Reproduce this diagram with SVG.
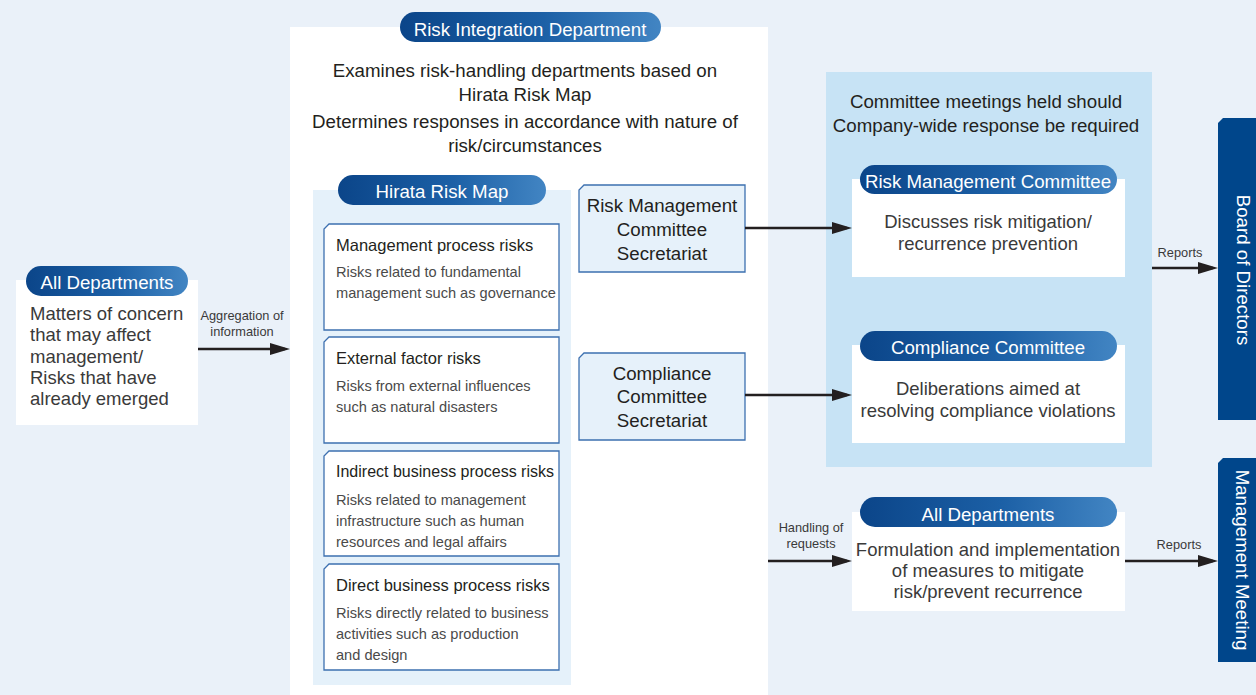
<svg xmlns="http://www.w3.org/2000/svg" width="1256" height="695" viewBox="0 0 1256 695">
  <defs>
    <linearGradient id="pill" x1="0" y1="0" x2="1" y2="0">
      <stop offset="0" stop-color="#0b4589"/>
      <stop offset="0.55" stop-color="#1c60a6"/>
      <stop offset="1" stop-color="#4285c3"/>
    </linearGradient>
    <marker id="arrow" markerUnits="userSpaceOnUse" markerWidth="20" markerHeight="12" refX="15" refY="6" orient="auto">
      <path d="M0,0 L20,6 L0,12 Z" fill="#231f20"/>
    </marker>
    <style>
      text { font-family: "Liberation Sans", Arial, sans-serif; }
      .main { font-size: 18.7px; fill: #231f20; text-anchor: middle; }
      .desc { font-size: 18.5px; fill: #3a3a3a; text-anchor: middle; }
      .pill-text { font-size: 18.7px; fill: #ffffff; text-anchor: middle; }
      .risk-title { font-size: 16.5px; fill: #231f20; }
      .risk-desc { font-size: 14.6px; fill: #4a4a4a; }
      .small { font-size: 12.8px; fill: #3a3a3a; text-anchor: middle; }
      .vert { font-size: 18.7px; fill: #ffffff; text-anchor: middle; }
      .riskbox { fill: #ffffff; stroke: #3d70b0; stroke-width: 1.3; }
      .secbox { fill: #e6f1fa; stroke: #3d70b0; stroke-width: 1.3; }
      .conn { stroke: #231f20; stroke-width: 2.5; fill: none; marker-end: url(#arrow); }
    </style>
  </defs>

  <!-- page background -->
  <rect x="0" y="0" width="1256" height="695" fill="#eaf1f9"/>

  <!-- Risk Integration Department -->
  <g id="risk-integration">
    <rect x="290" y="27" width="478" height="668" fill="#ffffff"/>
    <rect x="400" y="12" width="261" height="30" rx="15" fill="url(#pill)"/>
    <text class="pill-text" x="530" y="36">Risk Integration Department</text>
    <text class="main" x="525" y="77">Examines risk-handling departments based on</text>
    <text class="main" x="525" y="101">Hirata Risk Map</text>
    <text class="main" x="525" y="128">Determines responses in accordance with nature of</text>
    <text class="main" x="525" y="152">risk/circumstances</text>
  </g>

  <!-- Hirata Risk Map -->
  <g id="hirata-risk-map">
    <rect x="313" y="190" width="258" height="495" fill="#e5f1fa"/>
    <rect x="338" y="175" width="208" height="30" rx="15" fill="url(#pill)"/>
    <text class="pill-text" x="442" y="198">Hirata Risk Map</text>
  </g>

  <g id="risk-management-process">
    <path class="riskbox" d="M329,224 H559 V330 H324 V229 Z"/>
    <text class="risk-title" x="336" y="251">Management process risks</text>
    <text class="risk-desc" x="336" y="277">Risks related to fundamental</text>
    <text class="risk-desc" x="336" y="298">management such as governance</text>
  </g>

  <g id="risk-external-factor">
    <path class="riskbox" d="M329,337 H559 V443 H324 V342 Z"/>
    <text class="risk-title" x="336" y="364">External factor risks</text>
    <text class="risk-desc" x="336" y="391">Risks from external influences</text>
    <text class="risk-desc" x="336" y="412">such as natural disasters</text>
  </g>

  <g id="risk-indirect-business">
    <path class="riskbox" d="M329,451 H559 V556 H324 V456 Z"/>
    <text class="risk-title" x="336" y="477" textLength="218" lengthAdjust="spacingAndGlyphs">Indirect business process risks</text>
    <text class="risk-desc" x="336" y="505">Risks related to management</text>
    <text class="risk-desc" x="336" y="526">infrastructure such as human</text>
    <text class="risk-desc" x="336" y="547">resources and legal affairs</text>
  </g>

  <g id="risk-direct-business">
    <path class="riskbox" d="M329,564 H559 V670 H324 V569 Z"/>
    <text class="risk-title" x="336" y="591">Direct business process risks</text>
    <text class="risk-desc" x="336" y="618">Risks directly related to business</text>
    <text class="risk-desc" x="336" y="639">activities such as production</text>
    <text class="risk-desc" x="336" y="660">and design</text>
  </g>

  <!-- Secretariats -->
  <g id="rm-secretariat">
    <path class="secbox" d="M584,185 H745 V272 H579 V190 Z"/>
    <text class="main" x="662" y="212">Risk Management</text>
    <text class="main" x="662" y="236">Committee</text>
    <text class="main" x="662" y="260">Secretariat</text>
  </g>

  <g id="compliance-secretariat">
    <path class="secbox" d="M584,353 H745 V440 H579 V358 Z"/>
    <text class="main" x="662" y="380">Compliance</text>
    <text class="main" x="662" y="403">Committee</text>
    <text class="main" x="662" y="427">Secretariat</text>
  </g>

  <!-- All Departments (source) -->
  <g id="all-departments-source">
    <rect x="16" y="280" width="182" height="145" fill="#ffffff"/>
    <rect x="26" y="266" width="162" height="30" rx="15" fill="url(#pill)"/>
    <text class="pill-text" x="107" y="289">All Departments</text>
    <text class="desc" x="30" y="320" style="text-anchor:start">Matters of concern</text>
    <text class="desc" x="30" y="341.3" style="text-anchor:start">that may affect</text>
    <text class="desc" x="30" y="362.6" style="text-anchor:start">management/</text>
    <text class="desc" x="30" y="384" style="text-anchor:start">Risks that have</text>
    <text class="desc" x="30" y="405" style="text-anchor:start">already emerged</text>
  </g>

  <!-- Committees -->
  <g id="committee-meetings">
    <rect x="826" y="72" width="326" height="395" fill="#c7e3f5"/>
    <text class="main" x="986" y="108">Committee meetings held should</text>
    <text class="main" x="986" y="132">Company-wide response be required</text>
  </g>

  <g id="risk-management-committee">
    <rect x="852" y="179" width="273" height="98" fill="#ffffff"/>
    <rect x="860" y="165" width="257" height="29" rx="14.5" fill="url(#pill)"/>
    <text class="pill-text" x="988" y="188">Risk Management Committee</text>
    <text class="desc" x="988" y="228">Discusses risk mitigation/</text>
    <text class="desc" x="988" y="250">recurrence prevention</text>
  </g>

  <g id="compliance-committee">
    <rect x="852" y="345" width="273" height="98" fill="#ffffff"/>
    <rect x="860" y="331" width="257" height="30" rx="15" fill="url(#pill)"/>
    <text class="pill-text" x="988" y="354">Compliance Committee</text>
    <text class="desc" x="988" y="395">Deliberations aimed at</text>
    <text class="desc" x="988" y="417">resolving compliance violations</text>
  </g>

  <g id="all-departments-response">
    <rect x="852" y="512" width="273" height="99" fill="#ffffff"/>
    <rect x="860" y="497" width="257" height="30" rx="15" fill="url(#pill)"/>
    <text class="pill-text" x="988" y="521">All Departments</text>
    <text class="desc" x="988" y="556">Formulation and implementation</text>
    <text class="desc" x="988" y="577">of measures to mitigate</text>
    <text class="desc" x="988" y="598">risk/prevent recurrence</text>
  </g>

  <!-- Reporting bodies -->
  <g id="board-of-directors">
    <path d="M1223,118 H1256 V420 H1218 V123 Z" fill="#00468b"/>
    <text class="vert" transform="translate(1237,270) rotate(90)">Board of Directors</text>
  </g>

  <g id="management-meeting">
    <path d="M1223,458 H1256 V662 H1218 V463 Z" fill="#00468b"/>
    <text class="vert" transform="translate(1236,560) rotate(90)">Management Meeting</text>
  </g>

  <!-- Connectors -->
  <g id="connectors">
    <line class="conn" x1="198" y1="349" x2="285" y2="349"/>
    <line class="conn" x1="745" y1="228" x2="847" y2="228"/>
    <line class="conn" x1="745" y1="395" x2="847" y2="395"/>
    <line class="conn" x1="1152" y1="268" x2="1213" y2="268"/>
    <line class="conn" x1="768" y1="561" x2="847" y2="561"/>
    <line class="conn" x1="1125" y1="561" x2="1213" y2="561"/>
    <text class="small" x="242" y="320">Aggregation of</text>
    <text class="small" x="242" y="336">information</text>
    <text class="small" x="811" y="532">Handling of</text>
    <text class="small" x="811" y="548">requests</text>
    <text class="small" x="1180" y="257">Reports</text>
    <text class="small" x="1179" y="549">Reports</text>
  </g>
</svg>
